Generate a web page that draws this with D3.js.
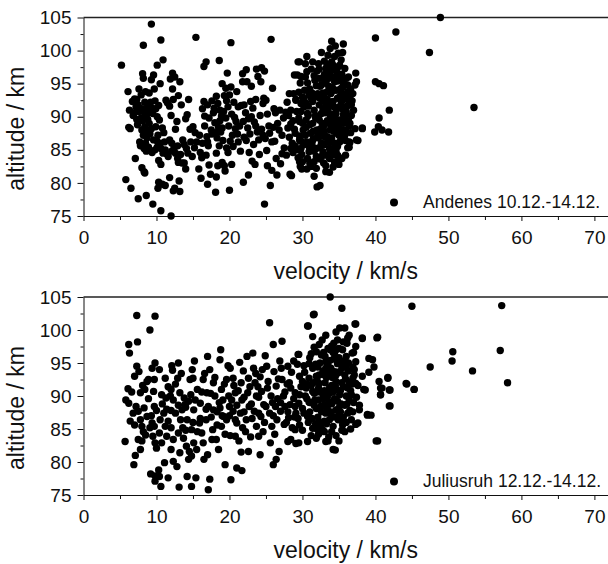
<!DOCTYPE html>
<html lang="en">
<head>
    <meta charset="UTF-8">
    <title></title>
    <style type="text/css">
        html, body { padding:0; margin:0; background:#fff; }
        svg text { font-family: "Liberation Sans", Arial, sans-serif; fill:#111; }
    </style>
</head>
<body>
<script src="https://d3js.org/d3.v7.min.js"></script>
<script>
    // velocity (km/s), altitude (km)
    var andenes = [
        [5.2,97.8],[5.8,80.5],[6.5,79.2],[6.1,93.8],[6.3,91],[6.2,88.4],[6.4,88.2],[6.7,92.3],[7.0,92.7],[7.2,91.5],
        [7.0,90.6],[6.8,90.2],[7.3,89.6],[7.6,90.8],[7.5,91.8],[7.6,94.2],[7.9,93.3],[7.7,86.2],[7.8,85.6],[7.1,83.7],
        [7.5,77.6],[8.0,82.3],[8.3,81.7],[8.4,81.5],[8.6,78.1],[8.2,100.8],[8.1,96.5],[8.2,95.8],[8.5,93.8],[8.0,91.2],
        [8.3,90.7],[8.6,90.2],[8.1,89.4],[8.4,88.5],[8.0,88],[8.6,87.8],[8.2,87.2],[8.7,86.8],[8.5,86],[8.9,85.4],
        [8.3,85.2],[9.0,89],[9.3,88.2],[8.8,91.5],[9.2,92.2],[9.0,93.6],[9.3,95.6],[9.6,96.3],[9.3,104],[9.5,76.8],
        [9.8,85],[9.6,86.5],[9.9,88.5],[9.5,90.5],[9.8,92.4],[9.7,94.2],
        [10.1,97.8],[10.6,101.6],[10.9,98.6],[10.5,95],[10.1,90],[10.4,89.5],[10.8,88.3],[10.2,87.2],[10.5,86],[10.1,85.4],
        [10.3,83.4],[10.6,82.8],[10.9,84.5],[10.3,80.1],[10.8,79.8],[10.2,79.2],[10.6,75.8],[11.2,79.6],[11.2,85],[11.4,84.4],
        [11.0,87.6],[11.5,92.1],[11.3,92.5],[11.8,91.6],[11.9,95.7],[12.2,96.6],[12.5,96],[12.2,94.2],[12.3,92.6],[12.0,90.2],
        [12.1,86],[12.4,85.2],[12.6,84.5],[12.1,84.8],[11.8,80.8],[12.5,79.2],[12.3,78.8],[12.0,75],[12.8,89.3],[12.6,88.1],
        [12.9,83.7],[13.0,83.1],[13.2,95.3],[13.0,93.2],[13.4,91.8],[13.1,80.3],[13.2,78.7],[13.6,86.5],[13.5,83],[13.8,85.8],
        [14.0,89.7],[14.2,90.3],[14.4,92.6],[14.1,85.2],[14.3,84.5],[14.0,82.1],[14.6,88.1],[15.0,88.5],[15.3,87.6],[15.4,102],
        [15.5,86.2],[15.2,85.3],[15.8,82.1],[16.0,84.6],[16.2,83.8],[16.5,92.3],[16.3,91.2],[16.6,90.1],[16.1,80.7],[16.8,98.3],
        [16.5,97.6],[16.9,87],[17.0,86.2],[17.1,85.6],[16.8,84.2],[17.2,82.7],[17.0,79.8],[17.4,81.3],[17.5,88],[17.6,87.4],
        [17.8,90.6],[17.9,91.3],[18.0,89.1],[18.2,93.1],[18.4,92],[18.1,87.6],[18.3,86.8],[18.2,84.5],[18.4,82.6],[18.2,80.9],
        [18.1,78.6],[18.6,98.5],[18.7,91],[18.9,90.1],[18.7,89.4],[19.0,88.3],[18.8,87.7],[19.1,86.4],[19.0,83.1],[19.3,82.6],
        [19.4,81.8],[19.5,94.3],[19.7,96.6],[19.6,92.4],[19.8,91.5],[19.5,89.8],[19.9,88.6],[19.6,85.3],[19.8,84.6],
        [20.0,78.9],[20.2,101.2],[20.2,94.5],[20.0,93.3],[20.3,90.4],[20.4,87.2],[20.1,86.3],[20.5,85.5],[20.3,82.8],[20.7,89.9],
        [20.9,89.3],[21.0,93.8],[21.2,91.5],[21.4,88.6],[21.1,87.4],[21.6,91.7],[21.8,96.5],[21.8,95.3],[22.0,91.8],[22.2,90.6],
        [22.0,86.9],[22.3,86.4],[21.9,80.1],[22.3,97.1],[22.4,95.3],[22.6,89.7],[22.5,88.3],[22.8,87.4],[22.7,84.6],[22.6,81.2],
        [23.0,94.6],[23.2,91.3],[23.0,90],[23.3,85.8],[23.1,83.3],[23.5,82.8],[23.7,97.2],[23.9,96.1],[23.6,92.6],[23.8,87.7],
        [24.0,86.5],[24.1,84.3],[24.4,97.4],[24.7,92.8],[24.8,96.9],[25.0,92.5],[24.6,92],[24.4,88.1],[24.6,87.2],[24.9,86.7],
        [24.8,76.8],[25.1,84.9],[25.2,82.6],[25.4,88.6],[25.5,87.5],[25.7,101.7],[25.6,79.6],[25.8,81.9],[25.9,94.3],[26.1,91.2],
        [26.3,90.6],[26.0,88.4],[26.2,86.3],[26.4,83.7],[26.6,89],[26.9,91],[27.2,87.2],[27.5,85.3],[27.8,84.2],[27.7,90.7],
        [28.0,88.3],[28.2,86.9],[28.3,81.3],[28.5,81.1],[28.4,85.2],[28.7,84.6],[28.7,89.4],[28.9,88.1],[28.8,93.5],[29.1,92.6],
        [29.3,96.3],[29.4,98.3],[29.2,90.8],[29.5,89.8],[29.6,87.1],[29.8,86.3],[29.4,83.8],[29.7,82.5],[29.9,82.1],
        [7.4,88.8],[7.9,89.8],[8.8,89.6],[9.1,87.4],[8.9,90.6],[7.3,92.6],[8.4,92.2],[9.4,91.3],[9.9,91.2],[10.3,91.7],
        [10.0,86.4],[9.4,84.6],[8.6,84.8],[10.6,85.2],[11.1,86.2],[11.8,86.5],[11.6,84.0],[12.9,85.6],[13.3,84.3],[13.8,83.0],
        [14.7,86.2],[14.9,84.0],[15.9,87.2],[16.3,86.0],[16.6,88.6],[17.2,89.8],[17.0,91.8],[17.6,92.4],[18.5,88.4],[18.6,85.6],
        [19.2,90.8],[19.3,93.2],[19.0,95.0],[20.6,92.2],[20.8,88.2],[21.2,86.2],[21.5,84.8],[21.9,89.3],[22.9,92.3],[23.4,89.2],
        [23.6,88.6],[24.2,90.2],[24.3,95.3],[25.2,90.4],[25.8,86.2],[26.8,88.0],[27.2,84.4],[27.4,89.8],[27.9,92.2],[28.4,88.9],
        [28.1,90.2],[29.0,85.6],[29.9,84.3],[27.0,82.9],[26.5,81.2],
        [34.0,101.4],[34.5,100.7],[35.6,101.0],[32.6,99.7],[33.5,99.3],[34.4,99.1],[35.5,99.7],[30.6,99.1],[31.4,98.3],[30.4,98.0],
        [29.6,98.3],[32.3,97.2],[33.2,97.3],[34.1,97.1],[35.1,97.8],[35.8,97.3],[28.9,96.3],[29.8,96.1],[30.6,96.8],[31.6,96.2],
        [32.6,95.8],[34.0,96.1],[34.8,96.6],[36.0,95.8],[37.3,96.6],[37.4,95.3],[37.2,94.8],[29.7,95.1],[30.7,95.1],[31.9,94.7],
        [33.2,95.1],[34.4,95.3],[35.5,94.5],[28.2,93.5],[29.5,93.7],[30.0,93.0],[30.9,93.3],[32.1,93.5],[33.0,93.0],[33.9,93.5],
        [35.1,93.0],[36.2,93.8],[36.9,93.5],[36.7,91.8],[36.8,92.4],[29.1,92.5],[30.5,92.0],[31.4,92.3],[32.3,91.8],[33.2,92.0],
        [34.2,92.3],[35.3,92.0],[28.4,91.0],[29.8,90.8],[30.7,90.5],[31.6,91.0],[32.6,90.5],[33.5,90.8],[34.6,90.5],[35.6,90.3],
        [29.6,89.3],[30.5,89.5],[31.4,89.0],[32.3,89.5],[33.2,89.0],[34.2,89.3],[35.1,89.5],[35.8,90.0],[36.5,89.0],[38.2,88.3],
        [30.1,88.0],[31.1,87.5],[32.0,88.0],[32.9,87.5],[33.8,88.0],[34.7,87.5],[35.9,88.0],[35.8,87.2],[29.6,86.5],[30.6,86.2],
        [31.5,86.7],[32.6,86.0],[33.5,86.5],[34.4,86.0],[35.3,86.7],[36.4,86.2],[37.4,86.5],[29.8,85.2],[30.9,84.7],[31.9,85.2],
        [32.8,84.7],[33.7,85.2],[34.8,85.5],[36.2,85.3],[30.7,83.7],[31.6,83.2],[32.6,84.0],[33.7,83.7],[34.4,84.2],[34.4,83.1],
        [35.4,83.7],[29.6,83.2],[31.2,82.5],[30.6,82.1],[31.9,82.2],[33.2,81.7],[32.0,79.4],
        [30.2,91.5],[30.8,90.2],[31.2,92.8],[31.8,89.8],[32.4,92.8],[32.8,91.2],[33.4,93.8],[33.8,90.2],[34.3,91.5],[34.8,92.8],
        [35.4,91.2],[35.8,93.4],[36.2,92.6],[33.0,96.4],[33.6,94.6],[34.6,94.0],[35.2,95.5],[32.0,96.9],[31.0,94.2],[30.3,94.0],
        [31.5,87.8],[32.2,86.8],[32.9,88.6],[33.4,87.0],[34.0,86.8],[34.5,88.8],[35.0,88.4],[35.6,89.0],[36.0,90.8],[36.4,88.6],
        [33.0,85.8],[33.8,84.6],[34.6,84.8],[31.3,85.8],[30.4,87.2],[32.4,83.6],[31.0,83.0],[33.2,82.6],[34.2,82.4],[35.0,82.8],
        [36.6,87.6],[37.0,91.0],[37.2,88.2],[30.0,89.0],[29.0,87.5],[28.6,86.0],[29.3,85.0],[34.0,98.3],[33.0,98.4],[35.3,98.6],
        [36.3,96.0],[36.6,94.2],
        [30.2,92.6],[30.5,88.4],[30.9,85.5],[31.3,93.6],[31.7,95.5],[31.8,90.2],[32.1,87.2],[32.4,94.6],[32.7,89.0],[32.9,92.4],
        [33.1,86.9],[33.3,91.2],[33.6,95.8],[33.9,88.6],[34.1,94.4],[34.4,90.0],[34.7,96.2],[34.9,91.4],[35.1,86.2],[35.3,93.6],
        [35.5,88.0],[35.7,95.0],[36.1,91.6],[36.3,89.4],[36.5,93.0],[34.2,97.8],[33.4,97.8],[34.9,99.6],[33.8,100.3],[31.9,84.0],
        [32.9,83.0],[33.6,84.1],[34.9,84.0],[31.6,81.0],[30.2,85.8],[30.0,83.2],
        [32.2,90.0],[32.8,93.6],[33.4,89.4],[33.2,95.4],[34.0,92.2],[34.6,89.6],[35.2,94.2],[34.0,90.4],[33.6,91.6],[32.6,94.8],
        [35.0,87.2],[32.4,85.4],[33.0,87.8],[34.2,85.2],[33.6,96.8],[34.8,95.4],
        [30.8,91.6],[31.0,88.8],[31.4,86.4],[31.9,93.0],[32.3,95.8],[32.5,88.2],[32.8,85.8],[33.1,90.6],[33.4,92.6],[33.7,86.2],
        [34.0,93.8],[34.3,87.8],[34.6,91.2],[34.8,97.4],[35.2,89.0],[35.4,96.4],[35.6,92.6],[35.9,86.4],[36.2,94.8],[36.7,90.2],
        [31.2,97.2],[32.2,98.0],[30.4,96.0],[29.8,92.0],[31.6,84.8],[33.2,84.2],
        [40.0,101.9],[42.8,102.8],[47.4,99.7],[48.9,105.0],[53.5,91.4],[40.0,95.3],[40.5,95.0],[41.1,94.7],[41.9,91.0],[40.5,89.8],
        [40.4,88.5],[39.9,87.7],[40.9,88.0],[41.8,87.7],[38.2,88.2],[37.6,86.4],[36.5,86.1],[36.4,85.4],[35.9,84.2],[34.8,84.2],
        [34.6,83.1],[33.7,81.6],[32.4,79.6]
    ];

    var juliusruh = [
        [5.7,83.1],[6.2,97.8],[6.3,96.5],[6.1,91.1],[5.8,89.4],[6.2,88.9],[6.4,86.2],[6.9,79.6],[7.1,81.0],[7.8,81.9],
        [7.3,94.5],[7.0,93.0],[7.6,93.7],[7.3,102.2],[7.4,98.2],[6.8,87.4],[7.2,88.4],[7.5,87.7],[7.8,86.4],[7.5,83.4],
        [8.0,85.4],[8.2,84.6],[8.5,84.1],[8.1,91.6],[8.4,91.0],[7.8,90.5],[8.7,92.2],[8.3,88.2],[8.7,86.9],[9.1,85.2],
        [9.4,85.9],[9.7,85.4],[9.5,83.9],[9.8,82.9],[10.0,82.1],[9.2,78.2],[9.8,77.9],[9.8,77.1],[9.1,100.0],[9.8,102.1],
        [9.4,94.2],[9.8,95.0],[9.7,92.5],[9.6,90.7],[9.7,88.4],[10.0,87.8],[8.9,92.5],
        [10.3,78.8],[10.4,77.8],[10.6,76.3],[10.4,94.0],[10.7,90.2],[11.0,87.4],[10.5,86.4],[10.4,84.4],[10.7,82.9],[11.2,92.7],
        [11.6,91.4],[11.3,89.7],[11.6,86.2],[11.2,85.4],[11.4,83.9],[11.1,79.9],[11.6,77.6],[12.1,94.6],[12.2,93.9],[12.0,91.0],
        [12.3,89.4],[12.6,87.4],[12.0,85.2],[12.3,83.4],[12.0,81.9],[12.3,80.1],[12.8,79.3],[13.0,95.0],[12.9,92.7],[13.2,90.5],
        [13.5,87.9],[13.3,86.4],[13.0,84.4],[13.2,81.4],[13.1,76.2],[13.8,89.7],[13.9,88.7],[14.2,86.4],[13.7,83.6],[14.1,82.4],
        [14.4,80.4],[14.2,77.8],[14.6,92.5],[15.0,92.7],[14.7,90.2],[15.1,87.9],[14.8,84.9],[15.1,82.9],[14.8,80.9],[14.8,76.3],
        [15.5,81.9],[15.4,77.6],[15.2,95.3],[15.6,91.0],[16.0,88.9],[15.9,85.9],[16.2,84.4],[16.4,82.9],[16.4,92.5],[16.9,90.5],
        [17.1,88.4],[16.8,86.4],[17.0,81.1],[17.0,96.0],[17.3,94.0],[17.3,77.4],[17.1,75.8],[17.8,92.0],[18.0,90.0],[17.8,87.9],
        [17.7,84.9],[18.2,83.4],[18.5,81.9],[18.7,95.5],[18.8,97.0],[18.9,91.0],[19.1,89.4],[18.7,88.2],[19.2,86.9],[18.9,85.4],
        [19.4,79.6],[19.6,92.5],[19.9,90.0],[20.0,88.4],[19.6,86.4],[20.1,84.0],
        [20.2,77.3],[20.1,94.2],[20.5,92.7],[20.8,90.5],[20.5,87.7],[21.0,85.9],[20.8,83.9],[21.0,79.1],[21.4,95.1],[21.6,92.0],
        [21.7,89.4],[21.5,87.4],[21.8,85.2],[21.6,81.5],[21.7,78.7],[22.4,96.0],[22.6,92.7],[22.5,90.5],[22.7,88.4],[22.3,86.4],
        [22.6,81.6],[22.9,83.8],[23.2,96.5],[23.3,94.2],[23.5,92.0],[23.7,90.0],[23.4,87.7],[23.7,85.4],[24.0,83.9],[24.2,92.9],
        [24.4,90.7],[24.7,88.7],[24.3,86.9],[24.6,84.6],[24.2,81.1],[24.9,96.1],[25.1,94.5],[25.5,101.1],[25.3,92.2],[25.7,90.0],
        [25.5,87.4],[25.8,85.4],[25.6,82.9],[26.0,97.8],[26.1,93.7],[26.4,91.5],[26.3,88.4],[26.5,86.4],[26.0,79.6],[26.4,80.4],
        [27.2,98.3],[26.9,95.3],[27.2,92.5],[27.4,90.0],[27.0,87.7],[27.5,85.7],[26.8,81.6],[28.0,94.5],[28.2,92.0],[28.3,88.7],
        [28.1,86.7],[28.4,83.4],[28.8,95.3],[29.0,90.5],[29.1,87.4],[29.0,84.9],[29.5,96.3],[29.6,93.0],[29.5,88.9],[29.5,82.9],
        [16.8,88.0],[17.5,86.8],[18.3,87.6],[19.0,87.0],[20.0,87.0],[21.0,88.6],[22.0,87.6],[23.0,88.8],[24.0,87.4],[25.0,88.4],
        [26.0,87.0],[27.0,89.0],[28.0,87.6],[29.0,88.4],[16.0,86.6],[15.0,86.0],[14.0,88.3],[13.0,88.6],[12.0,87.8],[24.0,89.8],
        [26.6,89.6],[27.8,86.0],[28.6,85.2],[22.0,89.8],[20.8,86.4],
        [10.8,88.8],[11.4,88.0],[11.9,90.0],[12.6,91.8],[13.4,93.4],[13.6,85.2],[14.0,84.8],[14.5,81.6],[14.4,89.2],[14.9,94.0],
        [15.3,89.4],[15.6,84.6],[16.2,90.6],[16.6,93.4],[16.5,80.4],[17.4,90.4],[17.6,83.4],[18.0,92.8],[18.3,85.6],[18.6,89.0],
        [19.3,91.8],[19.4,84.2],[19.8,94.6],[20.3,89.4],[20.6,91.6],[21.2,90.8],[21.3,83.2],[21.9,93.8],[22.2,84.6],[22.8,91.4],
        [23.1,86.6],[23.6,93.4],[23.9,91.4],[24.5,94.0],[24.8,86.0],[25.2,91.2],[25.9,89.0],[26.2,84.2],[26.7,92.6],[27.1,94.2],
        [27.6,88.4],[27.9,91.8],[28.5,93.6],[28.9,86.8],[29.3,94.8],[7.0,85.6],[8.9,89.6],[9.3,87.0],[8.0,83.2],[6.6,90.6],
        [33.8,105.0],[35.4,103.3],[45.0,103.6],[31.5,102.3],[30.7,100.6],[37.2,100.9],[35.1,100.3],[35.8,100.3],[34.6,99.7],[40.2,98.8],
        [38.2,98.7],[31.4,99.0],[33.2,99.2],[36.4,99.2],[32.7,98.5],[34.8,98.5],[29.4,96.3],[32.3,97.8],[33.5,97.2],[36.1,98.0],
        [37.3,97.5],[36.8,96.5],[31.9,96.7],[34.4,96.5],[35.5,97.0],[39.1,95.7],[39.6,95.5],[39.8,94.4],[39.1,93.6],[37.1,94.0],
        [36.0,94.4],[34.8,94.9],[33.2,95.2],[32.1,94.4],[30.9,94.9],[41.7,92.8],[40.5,92.2],[40.9,91.2],[40.7,90.2],[41.9,90.9],
        [38.6,90.9],[37.3,91.9],[44.2,91.9],[45.3,91.0],[41.9,88.5],[40.1,83.2],[37.8,87.9],[38.9,87.2],[39.4,87.1],[37.6,85.9],
        [36.7,86.4],[35.5,85.6],[34.2,85.4],[33.2,83.1],[34.2,81.9],[31.9,83.6],[30.7,83.1],[29.1,82.8],[28.0,83.1],
        [33.7,91.2],[32.8,90.2],[34.6,92.2],[32.3,91.9],[31.4,90.7],[33.7,89.1],[35.1,90.2],[35.8,88.6],[34.6,87.9],[33.2,87.4],
        [31.9,88.1],[30.9,89.1],[30.5,91.2],[30.9,92.7],[36.2,91.2],[36.7,90.2],[36.9,92.7],[35.8,93.2],[34.4,93.7],[33.0,93.2],
        [31.9,93.0],[30.0,92.2],[29.6,90.2],[30.0,88.1],[29.4,86.6],[30.7,86.9],[32.3,86.1],[33.7,86.4],[34.8,86.9],[36.2,87.4],
        [31.4,85.1],[32.8,84.8],[30.0,84.8],[36.9,87.6],[37.3,95.2],
        [57.3,103.7],[50.6,96.7],[50.5,95.3],[47.5,94.4],[53.3,93.8],[57.1,96.9],[58.1,92.0],[44.3,91.8],[45.3,91.0],[41.7,92.7],
        [42.0,90.9],[40.7,91.2],[40.7,90.2],[40.3,83.2],[42.0,88.5],[40.3,98.9],[31.6,102.4],[30.8,100.6],[38.9,87.1],[38.4,91.0],
        [37.3,85.7],[34.5,81.8],[33.5,83.2],[38.2,98.8],[37.3,100.9],
        [31.0,95.8],[32.6,96.2],[34.0,97.6],[35.0,95.8],[36.0,96.0],[31.5,92.0],[32.2,89.4],[33.0,90.8],[33.6,93.6],[34.2,90.6],
        [34.8,89.2],[35.4,92.0],[36.4,89.6],[37.0,89.0],[37.6,91.6],[33.4,88.2],[32.6,87.6],[34.0,88.8],[35.2,87.6],[36.0,86.0],
        [31.0,87.6],[30.4,90.0],[29.8,91.4],[28.8,89.6],[28.4,91.2],[27.6,90.6],[31.8,85.8],[33.0,84.6],[34.6,84.0],[35.8,84.6],
        [37.8,88.6],[38.2,93.0],[37.0,96.6],[36.2,98.8],
        [30.3,93.6],[30.6,89.6],[30.8,86.0],[31.2,91.6],[31.4,94.2],[31.7,89.4],[32.0,92.4],[32.1,86.8],[32.4,95.0],[32.6,90.6],
        [32.9,88.6],[33.1,92.0],[33.3,85.8],[33.5,94.6],[33.7,90.4],[33.9,87.6],[34.1,92.8],[34.3,95.6],[34.4,89.6],[34.7,91.0],
        [34.9,86.4],[35.1,93.6],[35.3,88.8],[35.6,91.4],[35.8,95.4],[36.0,90.0],[36.3,93.8],[36.5,87.8],[36.8,91.8],[37.1,93.2],
        [37.4,89.8],[35.0,97.2],[33.8,97.0],[32.9,96.6],[31.6,97.4],[34.3,98.0],[35.6,98.2],[32.0,85.0],[33.6,83.8],[35.0,83.2],
        [31.2,84.0],[36.6,85.0],[30.2,87.4],[29.6,85.6],
        [32.2,91.2],[32.8,93.8],[33.4,89.8],[33.2,94.2],[34.0,91.6],[34.6,93.2],[35.2,90.8],[34.0,87.0],[33.0,86.2],[35.6,86.8],
        [32.5,88.4],[31.6,90.4],[34.2,96.6],[35.4,94.2],[33.8,95.4],[36.4,92.0],
        [31.0,89.0],[31.3,86.6],[31.8,94.8],[32.3,93.2],[32.5,85.6],[32.9,89.6],[33.3,92.8],[33.5,88.8],[33.9,94.2],[34.3,86.8],
        [34.5,91.6],[34.8,93.6],[35.0,88.2],[35.4,95.2],[35.5,86.2],[35.9,92.6],[36.1,88.8],[36.3,95.0],[36.6,90.8],[36.9,94.4],
        [32.0,90.6],[33.1,96.0],[34.6,97.0],[31.6,88.6],[30.6,91.8],[30.2,94.6],[31.2,96.4],[32.2,84.2],[34.0,84.6],[35.4,84.8]
    ];

    var xMajorTicks = [0, 10, 20, 30, 40, 50, 60, 70];
    var xMinorTicks = [5, 15, 25, 35, 45, 55, 65];
    var yMajorTicks = [75, 80, 85, 90, 95, 100, 105];
    var yMinorTicks = [77.5, 82.5, 87.5, 92.5, 97.5, 102.5];
    var legendLabels = ['Andenes 10.12.-14.12.', 'Juliusruh 12.12.-14.12.'];
    var xTitle = 'velocity / km/s';
    var yTitle = 'altitude / km';

    var chart = {};

    chart.options = {
        width: 608,
        height: 564,
        left: 83.5,
        right: 609,
        panels: [ { top: 17.5, bottom: 216 }, { top: 297, bottom: 495 } ],
        radius: 3.7,
        tickFont: 19,
        titleFont: 23,
        legendFont: 17.5
    };

    chart.init = function() {
        this.svg = d3.select('body').append('svg')
          .attr('width', this.options.width)
          .attr('height', this.options.height);

        this.renderPanel(andenes, legendLabels[0], this.options.panels[0]);
        this.renderPanel(juliusruh, legendLabels[1], this.options.panels[1]);
    };

    chart.renderPanel = function(data, label, p) {
        var o = this.options,
            g = this.svg.append('g'),
            xScale = d3.scaleLinear().domain([0, 72]).range([o.left, o.right]),
            yScale = d3.scaleLinear().domain([75, 105]).range([p.bottom, p.top]);

        // top frame line
        g.append('line')
          .attr('x1', o.left).attr('x2', o.right)
          .attr('y1', p.top).attr('y2', p.top)
          .attr('stroke', '#222').attr('stroke-width', 1.3);

        var xAxis = g.append('g')
          .attr('transform', 'translate(0,' + p.bottom + ')')
          .call(d3.axisBottom(xScale).tickValues(xMajorTicks).tickSize(5).tickSizeOuter(0));
        xAxis.selectAll('text').attr('y', 28).attr('dy', null).attr('font-size', o.tickFont);
        g.append('g')
          .attr('transform', 'translate(0,' + p.bottom + ')')
          .call(d3.axisBottom(xScale).tickValues(xMinorTicks).tickSize(4).tickFormat(''))
          .select('.domain').remove();

        var yAxis = g.append('g')
          .attr('transform', 'translate(' + o.left + ',0)')
          .call(d3.axisLeft(yScale).tickValues(yMajorTicks).tickSize(6).tickSizeOuter(0).tickPadding(6));
        yAxis.selectAll('text').attr('font-size', o.tickFont);
        g.append('g')
          .attr('transform', 'translate(' + o.left + ',0)')
          .call(d3.axisLeft(yScale).tickValues(yMinorTicks).tickSize(3).tickFormat(''))
          .select('.domain').remove();

        g.selectAll('.tick line, .domain').attr('stroke', '#111');
        g.selectAll('.tick text').attr('fill', '#111').attr('font-family', '"Liberation Sans", Arial, sans-serif');

        g.append('g').selectAll('circle')
          .data(data)
          .enter().append('circle')
          .attr('cx', function(d) { return xScale(d[0]); })
          .attr('cy', function(d) { return yScale(d[1]); })
          .attr('r', o.radius)
          .attr('fill', '#000');

        // legend
        g.append('circle')
          .attr('cx', 394).attr('cy', p.bottom - 13.5)
          .attr('r', 4).attr('fill', '#000');
        g.append('text')
          .attr('x', 423).attr('y', p.bottom - 8.5)
          .attr('font-size', o.legendFont)
          .text(label);

        // axis titles
        g.append('text')
          .attr('x', (o.left + 608) / 2).attr('y', p.bottom + 63)
          .attr('text-anchor', 'middle')
          .attr('font-size', o.titleFont)
          .text(xTitle);
        g.append('text')
          .attr('transform', 'translate(24,' + ((p.top + p.bottom) / 2 + 12) + ') rotate(-90)')
          .attr('text-anchor', 'middle')
          .attr('font-size', o.titleFont)
          .text(yTitle);
    };

    chart.init();
</script>
</body>
</html>
